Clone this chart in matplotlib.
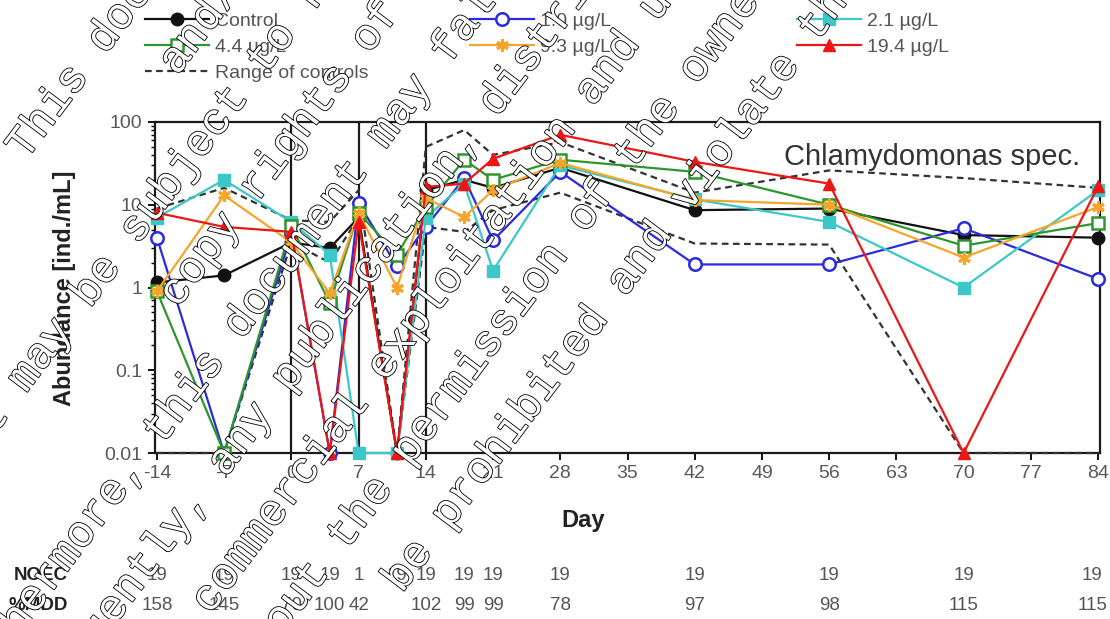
import matplotlib
matplotlib.use('Agg')
import numpy as np
import matplotlib.pyplot as plt
import matplotlib.transforms as mtransforms
import matplotlib.patheffects as pe
from matplotlib.ticker import LogLocator, NullFormatter

plt.rcParams['font.family'] = ['Liberation Sans', 'DejaVu Sans']
plt.rcParams['axes.unicode_minus'] = False

# sampling days (0.01 = nothing found)
days = [-14, -7, 0, 4, 7, 11, 14, 18, 21, 28, 42, 56, 70, 84]

control = [1.15, 1.4, 3.5, 3.0, 7.0, 0.01, 15, 20, 16, 28, 8.6, 9.0, 4.3, 4.0]
c_1_0 = [4.0, 0.01, 4.5, 0.01, 10.5, 1.8, 5.4, 21, 3.7, 25, 1.9, 1.9, 5.2, 1.27]
c_2_1 = [7.0, 20, 6.2, 2.5, 0.01, 0.01, 7.0, 18, 1.6, 30, 11.6, 6.2, 1.0, 15]
c_4_4 = [0.9, 0.01, 5.5, 0.65, 8.0, 2.5, 9.4, 35, 20, 35, 25, 10, 3.2, 6.0]
c_9_3 = [0.9, 13, 3.5, 0.85, 8.0, 1.0, 12, 7.1, 15, 32, 11.4, 10, 2.3, 9.4]
c_19_4 = [8.0, 5.4, 4.7, 0.01, 6.2, 0.01, 16.4, 18, 36, 70, 33, 18, 0.01, 16.7]

range_hi = [9, 16, 6.5, 6.2, 15, 0.01, 50, 80, 40, 57, 14, 26, 21, 16]
range_lo = [0.01, 0.01, 3.5, 2.0, 7.0, 0.01, 5.4, 4.7, 8.6, 14, 3.4, 3.3, 0.01, 0.01]

application_days = [0, 7, 14]

noec = ['19', '19', '19', '19', '1', '19', '19', '19', '19', '19', '19', '19', '19', '19']
mdd = ['158', '145', '70', '100', '42', '', '102', '99', '99', '78', '97', '98', '115', '115']

watermark = [
    'This document is the property of Bayer AG',
    'and/or any of its affiliates.',
    'It may be subject to rights such as intellectual property and',
    'copy rights of the owner and third parties.',
    'Furthermore, this document may fall under a regulatory data protection regime.',
    'Consequently, any publication, distribution, reproduction and/or publishing and',
    'any commercial exploitation and use of this document or its contents',
    'without the permission of the owner of this document may therefore',
    'be prohibited and violate the rights of its owner.',
]

W, H = 1110, 619
fig = plt.figure(figsize=(W / 100, H / 100), dpi=100)
ax = fig.add_axes([155 / W, 1 - 453 / H, 945 / W, 331 / H])

for d in application_days:
    ax.axvline(d, color='#1a1a1a', lw=1.6, zorder=2)

kw = dict(lw=1.6, ms=9, clip_on=False, zorder=3)
h_lo, = ax.plot(days, range_lo, color='#333333', ls=(0, (3, 2)), lw=1.6, clip_on=False, zorder=3)
h_rng, = ax.plot(days, range_hi, color='#333333', ls=(0, (3, 2)), lw=1.6, clip_on=False, zorder=3,
                 label='Range of controls')
h_ctrl, = ax.plot(days, control, color='#111111', marker='o', label='Control', **kw)
h_10, = ax.plot(days, c_1_0, color='#2a2ae0', marker='o', mfc='white', mew=1.8,
                label='1.0 µg/L', **kw)
h_21, = ax.plot(days, c_2_1, color='#3cc8c8', marker='s', label='2.1 µg/L', **kw)
h_44, = ax.plot(days, c_4_4, color='#2e962e', marker='s', mfc='white', mew=1.8,
                label='4.4 µg/L', **kw)
h_93, = ax.plot(days, c_9_3, color='#f5a52a', marker=(6, 2, 0), mew=2.2,
                label='9.3 µg/L', **kw)
h_194, = ax.plot(days, c_19_4, color='#ee1515', marker='^', label='19.4 µg/L', **kw)

ax.set_yscale('log')
ax.set_ylim(0.01, 100)
ax.set_xlim(-14.2, 84.2)
ax.set_yticks([0.01, 0.1, 1, 10, 100])
ax.set_yticklabels(['0.01', '0.1', '1', '10', '100'])
ax.yaxis.set_minor_locator(LogLocator(base=10, subs=range(2, 10)))
ax.yaxis.set_minor_formatter(NullFormatter())
ax.set_xticks(range(-14, 85, 7))
ax.tick_params(axis='both', which='major', direction='out', length=5, width=1.3,
               labelsize=14, labelcolor='#595959', pad=4)
ax.tick_params(axis='y', which='minor', direction='out', length=3, width=1.0)
for s in ax.spines.values():
    s.set_linewidth(1.6)
    s.set_color('#1a1a1a')

ax.text(932 / W, 1 - 157 / H, 'Chlamydomonas spec.', transform=fig.transFigure,
        fontsize=21, color='#333333', ha='center', va='center')

fig.text(65 / W, 1 - 288 / H, 'Abundance [ind./mL]', rotation=90, fontsize=17,
         fontweight='bold', color='#222222', ha='center', va='center')
fig.text(583 / W, 1 - 520 / H, 'Day', fontsize=17, fontweight='bold',
         color='#222222', ha='center', va='center')

# NOEC / %MDD rows under the axis
tr = mtransforms.blended_transform_factory(ax.transData, fig.transFigure)
tr_last = mtransforms.offset_copy(tr, fig=fig, x=-6, y=0, units='dots')
fig.text(68 / W, 1 - 576 / H, 'NOEC', fontsize=13.5, fontweight='bold',
         color='#222222', ha='right', va='center')
fig.text(68 / W, 1 - 606 / H, '%MDD', fontsize=13.5, fontweight='bold',
         color='#222222', ha='right', va='center')
for i, (d, n, m) in enumerate(zip(days, noec, mdd)):
    t = tr_last if i == len(days) - 1 else tr
    ax.text(d, 1 - 576 / H, n, transform=t, fontsize=13.5, color='#555555',
            ha='center', va='center', clip_on=False)
    ax.text(d, 1 - 606 / H, m, transform=t, fontsize=13.5, color='#555555',
            ha='center', va='center', clip_on=False)

# legend in three blocks
leg_kw = dict(loc='upper left', frameon=False, fontsize=14, handlelength=3.3,
              handletextpad=0.3, labelspacing=0.44, borderpad=0, borderaxespad=0,
              labelcolor='#555555')
fig.legend(handles=[h_ctrl, h_44, h_rng], bbox_to_anchor=(145 / W, 1 - 12 / H), **leg_kw)
fig.legend(handles=[h_10, h_93], bbox_to_anchor=(470 / W, 1 - 12 / H), **leg_kw)
fig.legend(handles=[h_21, h_194], bbox_to_anchor=(797 / W, 1 - 12 / H), **leg_kw)

# diagonal outlined watermark, lines centred along a common axis
ang = np.deg2rad(53)
u = np.array([np.cos(ang), -np.sin(ang)])
nv = np.array([np.sin(ang), np.cos(ang)])
for k, line in enumerate(watermark):
    px, py = 430 * u + (106 + 70.1 * k) * nv
    fig.text(px / W, 1 - py / H, line, rotation=53, rotation_mode='anchor',
             ha='center', va='center', fontsize=31.8, family='Liberation Mono',
             color='white', zorder=20,
             path_effects=[pe.withStroke(linewidth=1.2, foreground='black')])

fig.savefig('out.png', dpi=100)
